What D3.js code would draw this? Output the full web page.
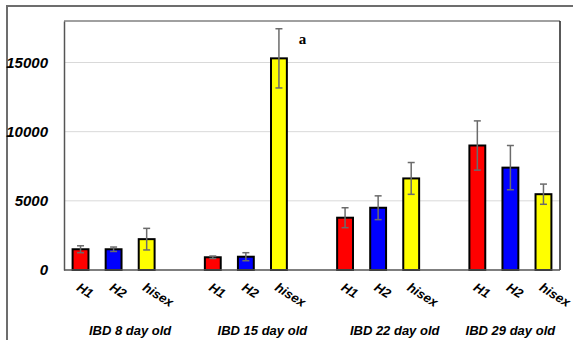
<!DOCTYPE html>
<html>
<head>
<meta charset="utf-8">
<script src="https://cdn.jsdelivr.net/npm/d3@7"></script>
<style>
  body { margin: 0; background: #fff; }
  svg { display: block; font-family: "Liberation Sans", Arial, sans-serif; }
</style>
</head>
<body>
<div id="chart"></div>
<script>
// data
const groups = ["IBD 8 day old", "IBD 15 day old", "IBD 22 day old", "IBD 29 day old"];
const strains = ["H1", "H2", "hisex"];
const colors = ["#ff0000", "#0000ff", "#ffff00"];
const means = [
    [1500, 1500, 2230],
    [920, 960, 15300],
    [3780, 4500, 6620],
    [9000, 7400, 5480]
];
const errors = [
    [250, 160, 780],
    [90, 290, 2140],
    [720, 860, 1150],
    [1780, 1600, 730]
];
const yTicks = [0, 5000, 10000, 15000];
const yMax = 18000;

const width = 573, height = 340;
const margin = {top: 21, right: 13, bottom: 70, left: 64};
const innerW = width - margin.left - margin.right,
    innerH = height - margin.top - margin.bottom;

const svg = d3.select("#chart").append("svg")
    .attr("width", width)
    .attr("height", height);

// outer chart frame
svg.append("rect")
    .attr("x", 7).attr("y", 6)
    .attr("width", width + 10).attr("height", height + 10)
    .attr("fill", "none")
    .attr("stroke", "#6d6d6d")
    .attr("stroke-width", 2);

const g = svg.append("g")
    .attr("transform", `translate(${margin.left},${margin.top})`);

// slots: 3 bars per group with an empty slot between groups
const rows = [];
groups.forEach((grp, gi) => {
    strains.forEach((s, si) => {
        rows.push({key: gi + "-" + si, group: gi, strain: s, color: colors[si],
            value: means[gi][si], err: errors[gi][si]});
    });
    if (gi < groups.length - 1) rows.push({key: gi + "-gap", gap: true});
});

const x = d3.scaleBand()
    .domain(rows.map(d => d.key))
    .range([0, innerW])
    .paddingInner(0.52)
    .paddingOuter(0.26);

const y = d3.scaleLinear()
    .domain([0, yMax])
    .range([innerH, 0]);

// gridlines
g.append("g")
    .selectAll("line")
    .data(yTicks.filter(t => t > 0))
    .join("line")
    .attr("x1", 0).attr("x2", innerW)
    .attr("y1", d => y(d)).attr("y2", d => y(d))
    .attr("stroke", "#d9d9d9")
    .attr("stroke-width", 1);

// plot area border
g.append("line").attr("x1", 0).attr("x2", innerW).attr("y1", 0).attr("y2", 0)
    .attr("stroke", "#808080").attr("stroke-width", 1.5);
g.append("line").attr("x1", innerW).attr("x2", innerW).attr("y1", 0).attr("y2", innerH)
    .attr("stroke", "#222").attr("stroke-width", 1.5);

// y axis
const yAxis = g.append("g")
    .call(d3.axisLeft(y).tickValues(yTicks).tickSize(0).tickPadding(16).tickFormat(d3.format("d")));
yAxis.select(".domain").attr("stroke", "#555").attr("stroke-width", 1.5);
yAxis.selectAll("text")
    .attr("font-family", "Liberation Sans, Arial, sans-serif")
    .attr("font-size", 15)
    .attr("font-weight", "bold")
    .attr("font-style", "italic")
    .attr("fill", "#000");

const bars = rows.filter(d => !d.gap);

g.selectAll("rect.bar")
    .data(bars)
    .join("rect")
    .attr("class", "bar")
    .attr("x", d => x(d.key))
    .attr("y", d => y(d.value))
    .attr("width", x.bandwidth())
    .attr("height", d => innerH - y(d.value))
    .attr("fill", d => d.color)
    .attr("stroke", "#000")
    .attr("stroke-width", 2);

// baseline
g.append("line").attr("x1", 0).attr("x2", innerW).attr("y1", innerH).attr("y2", innerH)
    .attr("stroke", "#555").attr("stroke-width", 1.5);

// error bars
const eb = g.selectAll("g.err")
    .data(bars)
    .join("g")
    .attr("class", "err")
    .attr("stroke", "#6b6b6b")
    .attr("stroke-width", 1.5);
eb.append("line")
    .attr("x1", d => x(d.key) + x.bandwidth() / 2)
    .attr("x2", d => x(d.key) + x.bandwidth() / 2)
    .attr("y1", d => y(d.value - d.err))
    .attr("y2", d => y(d.value + d.err));
eb.selectAll("line.cap")
    .data(d => [d.value - d.err, d.value + d.err].map(v => ({d, v})))
    .join("line")
    .attr("class", "cap")
    .attr("x1", o => x(o.d.key) + x.bandwidth() / 2 - 3.5)
    .attr("x2", o => x(o.d.key) + x.bandwidth() / 2 + 3.5)
    .attr("y1", o => y(o.v))
    .attr("y2", o => y(o.v));

// strain labels, rotated
g.selectAll("text.xlab")
    .data(bars)
    .join("text")
    .attr("class", "xlab")
    .attr("transform", d => `translate(${x(d.key) + x.bandwidth() / 2},${innerH + 12}) rotate(32)`)
    .attr("dy", "0.71em")
    .attr("font-size", 13)
    .attr("font-weight", "bold")
    .attr("font-style", "italic")
    .text(d => d.strain);

// group labels (the last one sits under its middle bar)
const groupShift = [0.5, 0.5, 0.5, 0];
g.selectAll("text.grp")
    .data(groups)
    .join("text")
    .attr("class", "grp")
    .attr("x", (d, i) => x(i + "-1") + x.bandwidth() / 2 + x.step() * groupShift[i])
    .attr("y", innerH + 65)
    .attr("text-anchor", "middle")
    .attr("font-size", 13)
    .attr("font-weight", "bold")
    .attr("font-style", "italic")
    .text(d => d);

// significance letter
const sig = bars.find(d => d.group === 1 && d.strain === "hisex");
g.append("text")
    .attr("x", x(sig.key) + x.bandwidth() + 12)
    .attr("y", y(sig.value + sig.err) + 15)
    .attr("font-family", "Liberation Serif, Times New Roman, serif")
    .attr("font-size", 15)
    .attr("font-weight", "bold")
    .text("a");
</script>
</body>
</html>
